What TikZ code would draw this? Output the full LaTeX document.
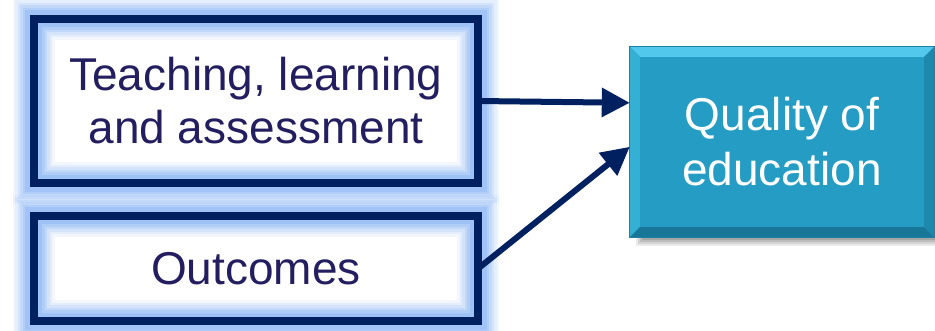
\documentclass[tikz,border=0pt]{standalone}
\usepackage{fontspec}
\setmainfont{Liberation Sans}
\usetikzlibrary{arrows.meta,calc}
\definecolor{navy}{RGB}{0,32,96}
\definecolor{glowc}{RGB}{140,182,245}
\definecolor{txtc}{RGB}{35,30,95}
\definecolor{tealc}{RGB}{36,156,195}
\definecolor{tealtop}{RGB}{82,200,236}
\definecolor{tealleft}{RGB}{52,176,212}
\definecolor{tealbot}{RGB}{24,118,152}
\definecolor{tealright}{RGB}{30,136,172}
\definecolor{tealedge}{RGB}{28,128,162}
\tikzset{
  whitebox/.style={fill=white, inner sep=0pt, align=center, text=txtc,
    font=\fontsize{46}{53}\selectfont},
  tealbox/.style={fill=tealc, inner sep=0pt, align=center, text=white,
    font=\fontsize{46}{55}\selectfont},
  navyframe/.style={draw=navy, line width=8pt},
  arr/.style={draw=navy, line width=6pt, -{Triangle[length=28pt,width=28pt]}},
}
\begin{document}
\begin{tikzpicture}[x=1pt,y=-1pt]
\useasboundingbox (0,0) rectangle (935,330);

% left boxes
\node[whitebox, minimum width=444pt, minimum height=164pt] (tla) at (256,101) {Teaching, learning\\and assessment};
\node[whitebox, minimum width=444pt, minimum height=105pt] (out) at (256,268.5) {Outcomes};

\foreach \n in {tla,out}{
  \foreach \w/\o in {42/0.10, 37/0.14, 32/0.18, 27/0.24, 22/0.32, 17/0.45}{
    \draw[glowc, line width=\w pt, opacity=\o] (\n.north west) rectangle (\n.south east);
  }
  \draw[navyframe] (\n.north west) rectangle (\n.south east);
}

% shadow of right box
\foreach \d/\o in {0/0.08, 2/0.10, 4/0.10, 6/0.12}{
  \fill[black, opacity=\o] (636+\d,50+\d) rectangle (945,246-\d);
}

% right box
\node[tealbox, minimum width=304pt, minimum height=190pt] (qe) at (782,142) {Quality of\\education};
\path (qe.north west) coordinate (A) (qe.north east) coordinate (B)
      (qe.south east) coordinate (C) (qe.south west) coordinate (D);
\path ($(A)+(10,10)$) coordinate (a) ($(B)+(-10,10)$) coordinate (b)
      ($(C)+(-10,-10)$) coordinate (c) ($(D)+(10,-10)$) coordinate (d);
\fill[tealtop] (A) -- (B) -- (b) -- (a) -- cycle;
\fill[tealleft] (A) -- (a) -- (d) -- (D) -- cycle;
\fill[tealbot] (D) -- (d) -- (c) -- (C) -- cycle;
\fill[tealright] (B) -- (C) -- (c) -- (b) -- cycle;
\draw[tealedge, line width=1.2pt] (A) rectangle (C);

% arrows
\draw[arr] (tla.east) -- ($(qe.north west)+(0,56)$);
\draw[arr] (out.east) -- ($(qe.north west)+(0,100)$);
\end{tikzpicture}
\end{document}
